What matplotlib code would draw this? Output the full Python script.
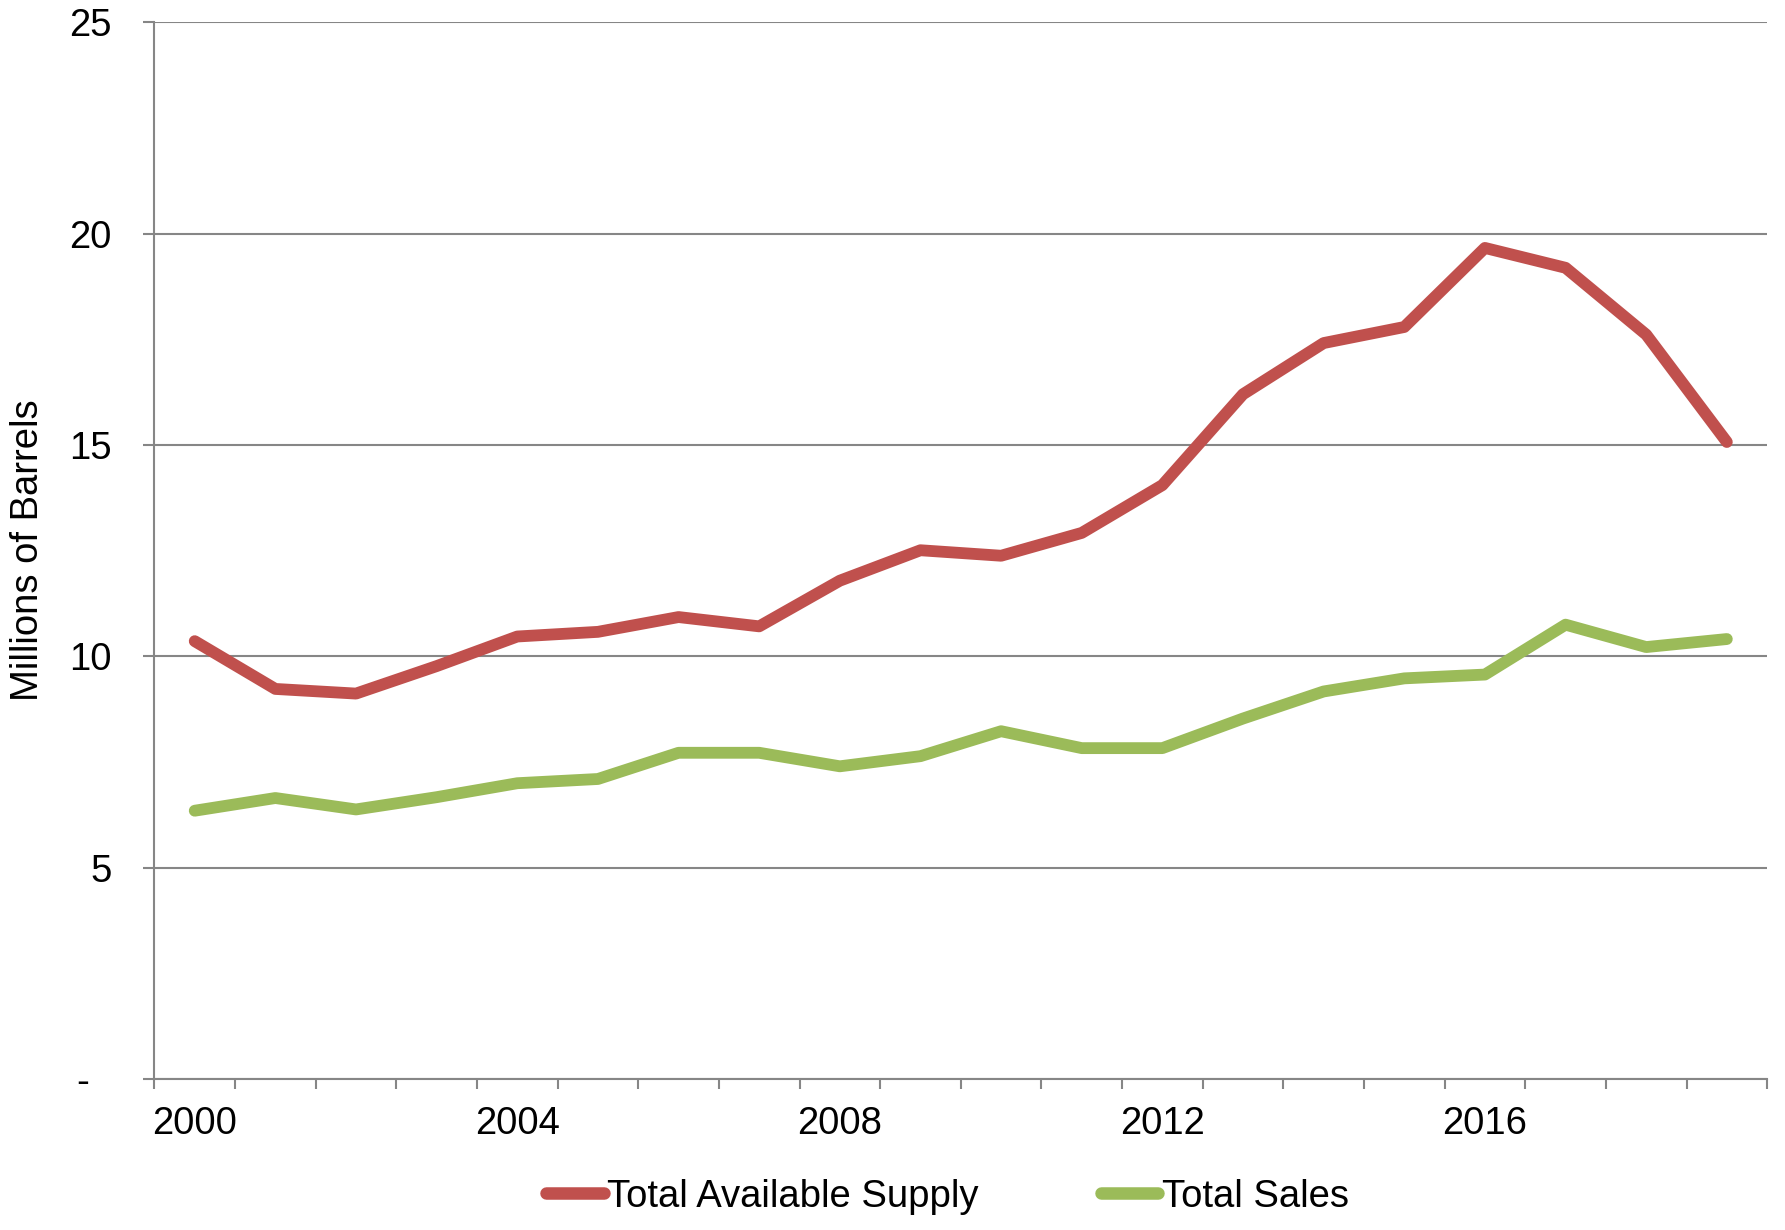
import matplotlib
matplotlib.use("Agg")
import matplotlib.pyplot as plt
import numpy as np

years = list(range(2000, 2020))
supply = [10.36, 9.23, 9.12, 9.77, 10.47, 10.58, 10.93, 10.71, 11.79, 12.51,
          12.38, 12.92, 14.05, 16.20, 17.41, 17.79, 19.66, 19.19, 17.61, 15.07]
sales = [6.35, 6.65, 6.38, 6.67, 7.00, 7.10, 7.72, 7.72, 7.40, 7.64,
         8.23, 7.83, 7.83, 8.53, 9.17, 9.48, 9.57, 10.75, 10.22, 10.41]
yticks = [0, 5, 10, 15, 20, 25]
ytick_labels = ["-  ", "5", "10", "15", "20", "25"]
xlabel_years = [2000, 2004, 2008, 2012, 2016]

plt.rcParams['font.family'] = ['Liberation Sans', 'DejaVu Sans']

fig = plt.figure(figsize=(17.85, 12.3), dpi=100)
ax = fig.add_axes([0.0865, 0.1226, 0.9035, 0.8594])

x = np.arange(len(years))
red = '#C0504D'
green = '#9BBB59'
grid = '#868686'
fs = 27.5

ax.plot(x, supply, color=red, lw=8.5, solid_capstyle='round', solid_joinstyle='round',
        label='Total Available Supply', zorder=3)
ax.plot(x, sales, color=green, lw=8.5, solid_capstyle='round', solid_joinstyle='round',
        label='Total Sales', zorder=3)

ax.set_xlim(-0.5, len(years) - 0.5)
ax.set_ylim(0, 25)

ax.set_yticks(yticks)
ax.set_yticklabels(ytick_labels)
ax.yaxis.grid(True, color=grid, lw=1.5)
ax.set_axisbelow(True)

ax.set_xticks([years.index(y) for y in xlabel_years])
ax.set_xticklabels([str(y) for y in xlabel_years])
ax.set_xticks(np.arange(-0.5, len(years), 1.0), minor=True)
ax.tick_params(axis='x', which='major', length=0, labelsize=fs, pad=19)
ax.tick_params(axis='x', which='minor', length=7, width=1.5, color=grid)
ax.tick_params(axis='y', which='major', length=8, width=1.5, color=grid, labelsize=fs, pad=23)

for s in ['top', 'right']:
    ax.spines[s].set_visible(False)
for s in ['left', 'bottom']:
    ax.spines[s].set_color(grid)
    ax.spines[s].set_linewidth(1.5)

ax.set_ylabel('Millions of Barrels', fontsize=fs)
ax.yaxis.set_label_coords(-0.067, 0.5)

leg = fig.legend(loc='center', bbox_to_anchor=(0.531, 0.027), ncol=2, frameon=False,
                 fontsize=fs, handlelength=1.5, handletextpad=0.1, columnspacing=3.2)
for line in leg.get_lines():
    line.set_linewidth(9)

fig.savefig('out.png', dpi=100)
